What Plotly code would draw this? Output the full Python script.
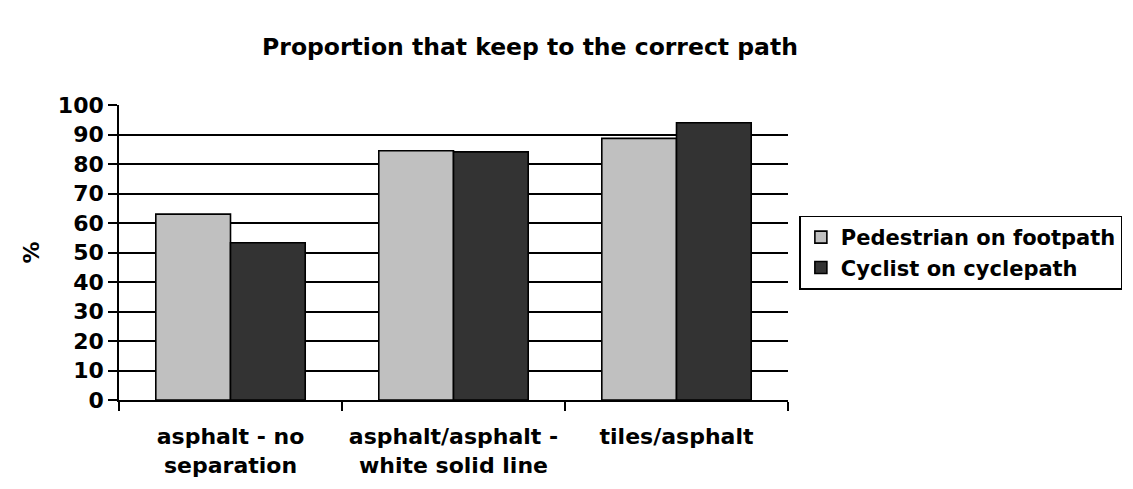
import plotly.graph_objects as go

categories = ["asphalt - no<br>separation", "asphalt/asphalt -<br>white solid line", "tiles/asphalt"]
pedestrian = [63.0, 84.5, 88.7]
cyclist = [53.3, 84.1, 94.0]
series_names = ["Pedestrian on footpath", "Cyclist on cyclepath"]
y_ticks = list(range(0, 101, 10))

FONT = "DejaVu Sans, Arial, sans-serif"

fig = go.Figure()
fig.add_trace(go.Bar(x=categories, y=pedestrian, name=series_names[0],
                     marker=dict(color="#C0C0C0", line=dict(color="black", width=1.6))))
fig.add_trace(go.Bar(x=categories, y=cyclist, name=series_names[1],
                     marker=dict(color="#333333", line=dict(color="black", width=1.6))))

fig.update_layout(
    width=1133, height=489,
    paper_bgcolor="white", plot_bgcolor="white",
    font=dict(family=FONT, size=22, color="black", weight="bold"),
    title=dict(text="<b>Proportion that keep to the correct path</b>", x=522 / 1133, xanchor="center",
               y=1 - 39 / 489, yanchor="middle", yref="container",
               font=dict(family=FONT, size=23.5, color="black")),
    margin=dict(l=111, r=353, t=97, b=97, autoexpand=False),
    barmode="group", bargap=0.33, bargroupgap=0,
    showlegend=True,
    legend=dict(x=1.017, xanchor="left", y=0.5, yanchor="middle",
                bordercolor="black", borderwidth=1.5, bgcolor="white",
                font=dict(family=FONT, size=21, color="black", weight="bold"),
                tracegroupgap=0, itemwidth=30),
)
fig.update_yaxes(range=[0, 100], tickvals=y_ticks, showgrid=True, gridcolor="black", gridwidth=1.6,
                 showline=True, linecolor="black", linewidth=1.6, ticks="outside", ticklen=9,
                 tickcolor="black", tickwidth=1.6, zeroline=False, automargin=False,
                 title=dict(text="<b>%</b>", standoff=12, font=dict(family=FONT, size=22)),
                 tickfont=dict(family=FONT, size=22, weight="bold"))
fig.update_xaxes(showline=True, linecolor="black", linewidth=1.6, ticks="outside", ticklen=9,
                 tickcolor="black", tickwidth=1.6, tickson="boundaries", showgrid=False,
                 ticklabelstandoff=16, tickangle=0, automargin=False,
                 tickfont=dict(family=FONT, size=22, weight="bold"))

fig.write_html("out.html")
